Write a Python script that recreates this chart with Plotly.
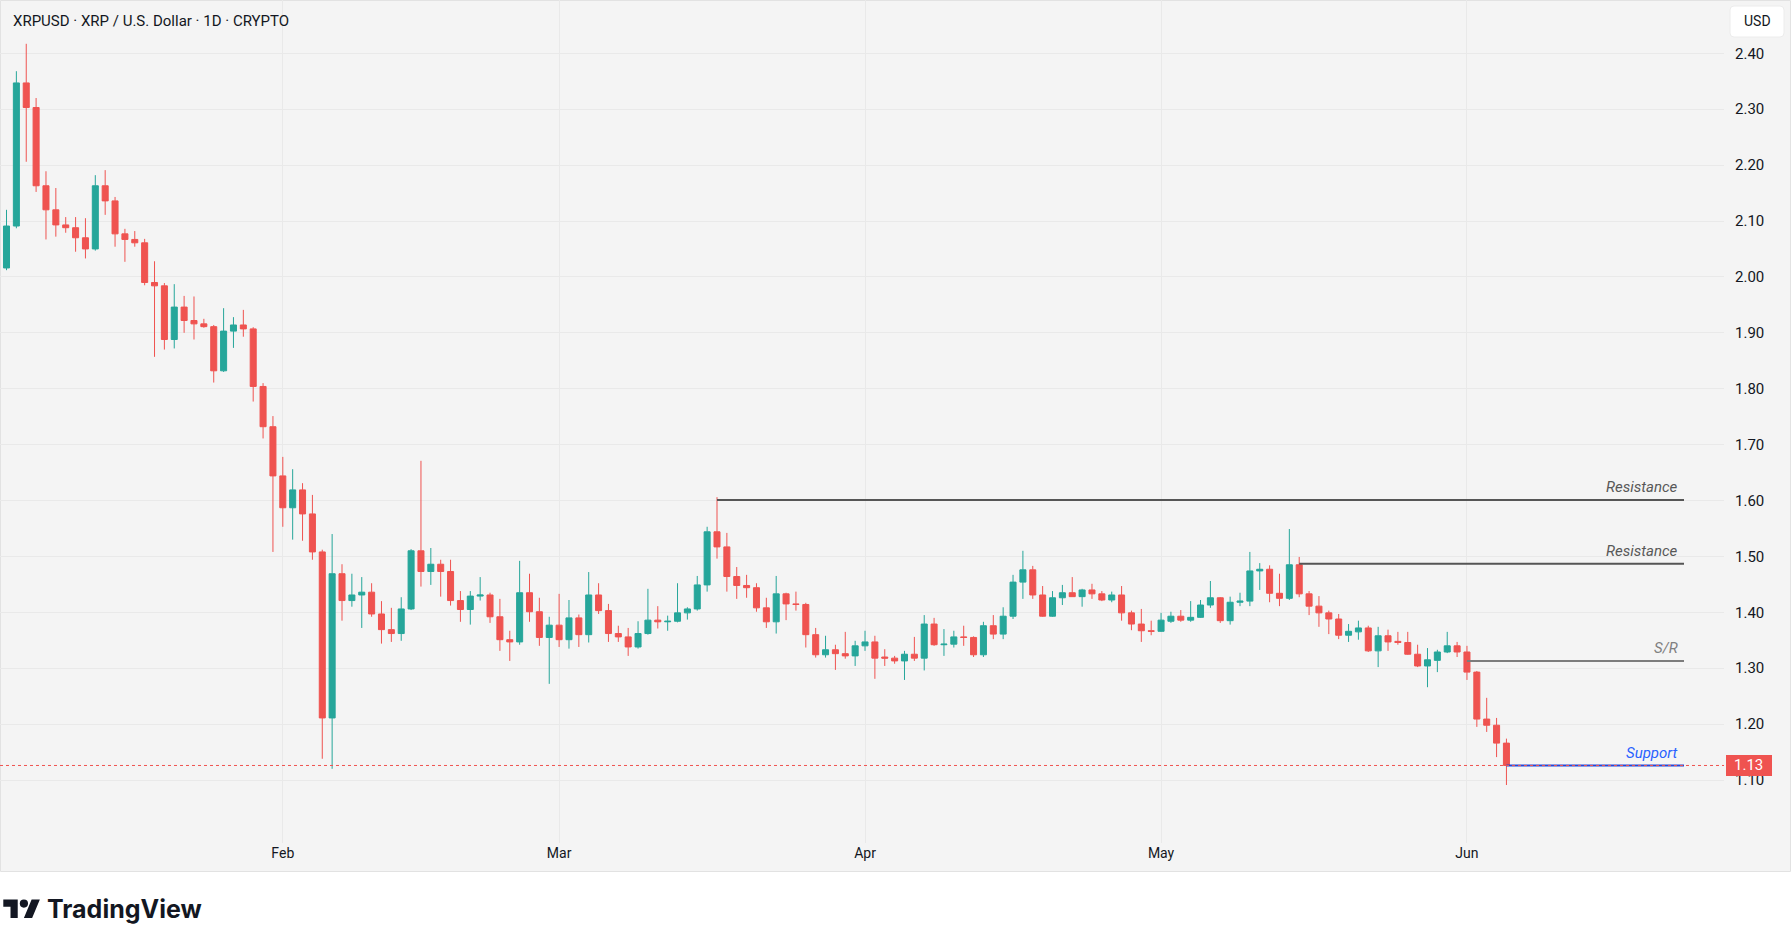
import plotly.graph_objects as go
import pandas as pd

# ---------------- data (XRPUSD daily, 2026-01-04 .. 2026-06-05) ----------------
start_date = "2026-01-04"
opens = [2.016, 2.091, 2.347, 2.303, 2.163, 2.120, 2.093, 2.088, 2.070, 2.050,
         2.163, 2.136, 2.077, 2.067, 2.061, 1.990, 1.984, 1.888, 1.946, 1.922,
         1.916, 1.911, 1.832, 1.903, 1.914, 1.907, 1.804, 1.732,
         1.644, 1.587, 1.619, 1.576, 1.508, 1.211, 1.469, 1.421, 1.431, 1.436,
         1.397, 1.369, 1.362, 1.406, 1.510, 1.473, 1.486, 1.473, 1.421, 1.405,
         1.429, 1.431, 1.392, 1.351, 1.347, 1.435, 1.401, 1.355,
         1.377, 1.351, 1.390, 1.360, 1.431, 1.403, 1.362, 1.356, 1.338, 1.362,
         1.386, 1.383, 1.384, 1.399, 1.406, 1.449, 1.544, 1.517, 1.464, 1.448,
         1.444, 1.408, 1.383, 1.433, 1.415, 1.414, 1.360, 1.324, 1.333, 1.326,
         1.322,
         1.340, 1.347, 1.320, 1.318, 1.313, 1.325, 1.318, 1.379, 1.342, 1.343,
         1.356, 1.355, 1.324, 1.376, 1.361, 1.393, 1.454, 1.476, 1.431, 1.393,
         1.426, 1.435, 1.428, 1.440, 1.433, 1.422, 1.431, 1.399, 1.379, 1.367,
         1.366, 1.384, 1.393, 1.386, 1.391, 1.413, 1.426, 1.385, 1.418, 1.420,
         1.474, 1.477, 1.434, 1.425, 1.485, 1.433, 1.411, 1.399, 1.388, 1.359,
         1.365, 1.372, 1.331, 1.358, 1.348, 1.346, 1.325, 1.304, 1.314, 1.329,
         1.340,
         1.329, 1.293, 1.209, 1.198, 1.166]
highs = [2.120, 2.368, 2.417, 2.320, 2.189, 2.159, 2.107, 2.107, 2.105, 2.182,
         2.191, 2.143, 2.086, 2.082, 2.068, 2.028, 1.989, 1.987, 1.966, 1.965,
         1.925, 1.914, 1.944, 1.928, 1.941, 1.910, 1.810, 1.751,
         1.678, 1.656, 1.631, 1.610, 1.512, 1.540, 1.486, 1.469, 1.463, 1.452,
         1.420, 1.408, 1.427, 1.513, 1.671, 1.515, 1.494, 1.494, 1.438, 1.438,
         1.463, 1.435, 1.424, 1.367, 1.492, 1.469, 1.426, 1.392,
         1.433, 1.422, 1.396, 1.472, 1.452, 1.415, 1.376, 1.372, 1.384, 1.442,
         1.411, 1.394, 1.452, 1.409, 1.465, 1.553, 1.606, 1.542, 1.481, 1.467,
         1.452, 1.426, 1.465, 1.435, 1.437, 1.417, 1.372, 1.358, 1.342, 1.365,
         1.349,
         1.367, 1.358, 1.334, 1.322, 1.331, 1.356, 1.395, 1.390, 1.370, 1.367,
         1.376, 1.357, 1.383, 1.395, 1.409, 1.467, 1.510, 1.483, 1.447, 1.438,
         1.449, 1.463, 1.442, 1.451, 1.438, 1.437, 1.447, 1.403, 1.406, 1.385,
         1.399, 1.401, 1.404, 1.420, 1.422, 1.456, 1.427, 1.428, 1.435, 1.508,
         1.488, 1.484, 1.469, 1.549, 1.499, 1.438, 1.429, 1.403, 1.397, 1.379,
         1.385, 1.376, 1.374, 1.369, 1.365, 1.365, 1.342, 1.336, 1.333, 1.365,
         1.347,
         1.340, 1.295, 1.247, 1.211, 1.174]
lows = [2.012, 2.087, 2.206, 2.152, 2.067, 2.072, 2.079, 2.045, 2.033, 2.047,
        2.111, 2.054, 2.027, 2.054, 1.985, 1.857, 1.870, 1.872, 1.900, 1.888,
        1.909, 1.811, 1.830, 1.873, 1.893, 1.777, 1.711, 1.508,
        1.553, 1.530, 1.528, 1.494, 1.138, 1.120, 1.385, 1.410, 1.372, 1.392,
        1.344, 1.347, 1.349, 1.404, 1.446, 1.449, 1.428, 1.412, 1.383, 1.378,
        1.421, 1.381, 1.331, 1.313, 1.342, 1.383, 1.340, 1.272,
        1.338, 1.335, 1.338, 1.346, 1.397, 1.347, 1.347, 1.322, 1.335, 1.360,
        1.371, 1.367, 1.382, 1.387, 1.403, 1.437, 1.496, 1.437, 1.424, 1.426,
        1.401, 1.372, 1.362, 1.386, 1.403, 1.337, 1.319, 1.319, 1.297, 1.317,
        1.304,
        1.331, 1.281, 1.304, 1.308, 1.279, 1.313, 1.296, 1.340, 1.322, 1.337,
        1.340, 1.320, 1.320, 1.352, 1.352, 1.388, 1.424, 1.424, 1.392, 1.392,
        1.413, 1.428, 1.410, 1.424, 1.420, 1.418, 1.385, 1.368, 1.347, 1.359,
        1.365, 1.381, 1.383, 1.383, 1.390, 1.408, 1.381, 1.378, 1.411, 1.411,
        1.440, 1.418, 1.411, 1.422, 1.427, 1.395, 1.374, 1.361, 1.352, 1.347,
        1.351, 1.329, 1.302, 1.331, 1.342, 1.324, 1.302, 1.266, 1.293, 1.327,
        1.320,
        1.279, 1.195, 1.186, 1.141, 1.091]
closes = [2.091, 2.347, 2.303, 2.163, 2.120, 2.093, 2.088, 2.070, 2.050, 2.163,
          2.136, 2.077, 2.067, 2.061, 1.990, 1.984, 1.888, 1.946, 1.922, 1.916,
          1.911, 1.832, 1.903, 1.914, 1.907, 1.804, 1.732, 1.644,
          1.587, 1.619, 1.576, 1.508, 1.211, 1.469, 1.421, 1.431, 1.436, 1.397,
          1.369, 1.362, 1.406, 1.510, 1.473, 1.486, 1.473, 1.421, 1.405, 1.429,
          1.431, 1.392, 1.351, 1.347, 1.435, 1.401, 1.355, 1.377,
          1.351, 1.390, 1.360, 1.431, 1.403, 1.362, 1.356, 1.338, 1.362, 1.386,
          1.383, 1.384, 1.399, 1.406, 1.449, 1.544, 1.517, 1.464, 1.448, 1.444,
          1.408, 1.383, 1.433, 1.415, 1.414, 1.360, 1.324, 1.333, 1.326, 1.322,
          1.340,
          1.347, 1.318, 1.318, 1.313, 1.325, 1.318, 1.379, 1.342, 1.343, 1.356,
          1.355, 1.324, 1.376, 1.361, 1.393, 1.454, 1.476, 1.431, 1.393, 1.426,
          1.435, 1.428, 1.440, 1.433, 1.422, 1.431, 1.399, 1.379, 1.367, 1.366,
          1.386, 1.393, 1.386, 1.391, 1.413, 1.426, 1.385, 1.418, 1.420, 1.474,
          1.477, 1.434, 1.425, 1.485, 1.433, 1.411, 1.399, 1.388, 1.359, 1.366,
          1.372, 1.331, 1.358, 1.347, 1.346, 1.325, 1.304, 1.315, 1.329, 1.340,
          1.329,
          1.293, 1.209, 1.198, 1.166, 1.126]

price_ticks = [1.10, 1.20, 1.30, 1.40, 1.50, 1.60, 1.70, 1.80, 1.90, 2.00,
               2.10, 2.20, 2.30, 2.40]
month_ticks = ["2026-02-01", "2026-03-01", "2026-04-01", "2026-05-01", "2026-06-01"]
month_labels = ["Feb", "Mar", "Apr", "May", "Jun"]

level_names = ["Resistance", "Resistance", "S/R", "Support"]
level_prices = [1.601, 1.487, 1.313, 1.126]
level_starts = ["2026-03-17", "2026-05-15", "2026-06-01", "2026-06-05"]
level_colors = ["#555555", "#555555", "#7c7c7c", "#2446d8"]
level_text_colors = ["#585858", "#585858", "#808080", "#2962ff"]
level_yshift = [2, 2, 2, 1]

title_text = "XRPUSD · XRP / U.S. Dollar · 1D · CRYPTO"

# ---------------- geometry helpers ----------------
W, H = 1791, 947
W_PLOT, H_PLOT = 1724, 843
PX_PER_DAY = 9.868
X_FIRST = 6.5            # pixel of first candle centre
Y_REF, P_REF, PX_PER_UNIT = 53.3, 2.40, 559.0
Y0 = P_REF - (H_PLOT - Y_REF) / PX_PER_UNIT
Y1 = P_REF + Y_REF / PX_PER_UNIT
base = pd.Timestamp(start_date)


def px_date(px):
    return (base + pd.Timedelta(days=(px - X_FIRST) / PX_PER_DAY)).strftime("%Y-%m-%d %H:%M:%S")


def px_x(px):
    return px / W_PLOT


def px_y(py):
    return (H_PLOT - py) / H_PLOT


def p_paper(p):
    return (p - Y0) / (Y1 - Y0)


dates = pd.date_range(start_date, periods=len(closes), freq="D")

GREEN = "#26a69a"
RED = "#ef5350"
BG = "#f4f4f4"
GRID = "#e9e9e9"
TXT = "#131722"

fig = go.Figure()
fig.add_trace(go.Candlestick(
    x=dates, open=opens, high=highs, low=lows, close=closes,
    increasing=dict(line=dict(color=GREEN, width=1), fillcolor=GREEN),
    decreasing=dict(line=dict(color=RED, width=1), fillcolor=RED),
    whiskerwidth=0, hoverinfo="skip", showlegend=False,
))

shapes = []
annotations = []

# container background + border
shapes.append(dict(type="rect", xref="paper", yref="paper", layer="below",
                   x0=px_x(0.5), x1=px_x(W - 0.5), y0=px_y(871.5), y1=px_y(0.5),
                   fillcolor=BG, line=dict(color="#e2e2e2", width=1)))

# level lines + labels
line_end = px_date(1684)
for name, price, st, col, tcol, ys in zip(level_names, level_prices, level_starts,
                                          level_colors, level_text_colors, level_yshift):
    shapes.append(dict(type="line", xref="x", yref="y", x0=st, x1=line_end,
                       y0=price, y1=price, line=dict(color=col, width=2)))
    annotations.append(dict(xref="paper", yref="y", x=px_x(1680), y=price,
                            xanchor="right", yanchor="bottom", yshift=ys,
                            text=name, showarrow=False,
                            font=dict(family="Roboto", size=15, color=tcol, style="italic")))

# current price dotted line
last = closes[-1]
shapes.append(dict(type="line", xref="paper", yref="y", x0=0, x1=1, y0=last, y1=last,
                   line=dict(color=RED, width=1, dash="dot")))
# price label box
shapes.append(dict(type="rect", xref="paper", yref="paper",
                   x0=px_x(1726), x1=px_x(1772),
                   y0=p_paper(last) - 10.5 / H_PLOT, y1=p_paper(last) + 10.5 / H_PLOT,
                   fillcolor=RED, line=dict(width=0)))
annotations.append(dict(xref="paper", yref="paper", x=px_x(1749), y=p_paper(last),
                        xanchor="center", yanchor="middle", text=f"{last:.2f}",
                        showarrow=False, font=dict(family="Roboto", size=15, color="white")))

# USD box (rounded)
bx0, bx1, by0, by1, r = 1730, 1784, 6, 37, 4
path = (f"M {px_x(bx0 + r)},{px_y(by0)} L {px_x(bx1 - r)},{px_y(by0)} "
        f"Q {px_x(bx1)},{px_y(by0)} {px_x(bx1)},{px_y(by0 + r)} "
        f"L {px_x(bx1)},{px_y(by1 - r)} Q {px_x(bx1)},{px_y(by1)} {px_x(bx1 - r)},{px_y(by1)} "
        f"L {px_x(bx0 + r)},{px_y(by1)} Q {px_x(bx0)},{px_y(by1)} {px_x(bx0)},{px_y(by1 - r)} "
        f"L {px_x(bx0)},{px_y(by0 + r)} Q {px_x(bx0)},{px_y(by0)} {px_x(bx0 + r)},{px_y(by0)} Z")
shapes.append(dict(type="path", xref="paper", yref="paper", path=path,
                   fillcolor="white", line=dict(color="#ececec", width=1)))
annotations.append(dict(xref="paper", yref="paper", x=px_x(1757), y=px_y(21.5),
                        xanchor="center", yanchor="middle", text="USD", showarrow=False,
                        font=dict(family="Roboto", size=14, color=TXT)))

# title
annotations.append(dict(xref="paper", yref="paper", x=px_x(11), y=px_y(21),
                        xanchor="left", yanchor="middle", text=title_text, showarrow=False,
                        font=dict(family="Roboto", size=15, color=TXT)))

# TradingView logo
ox, oy, s = 3.3, 899.5, 1.03


def lp(u, v):
    return f"{px_x(ox + u * s)},{px_y(oy + (v - 4) * s)}"


logo_path = (f"M {lp(0,4)} L {lp(14,4)} L {lp(14,22)} L {lp(7,22)} L {lp(7,11)} L {lp(0,11)} Z "
             f"M {lp(20,22)} L {lp(28,22)} L {lp(35.5,4)} L {lp(27.5,4)} Z")
shapes.append(dict(type="path", xref="paper", yref="paper", path=logo_path,
                   fillcolor=TXT, line=dict(width=0)))
shapes.append(dict(type="circle", xref="paper", yref="paper",
                   x0=px_x(ox + 16 * s), x1=px_x(ox + 24 * s),
                   y0=px_y(oy + 8 * s), y1=px_y(oy),
                   fillcolor=TXT, line=dict(width=0)))
annotations.append(dict(xref="paper", yref="paper", x=px_x(44.5), y=px_y(909.5),
                        xanchor="left", yanchor="middle", text="TradingView", showarrow=False,
                        font=dict(family="Inter", size=25, color=TXT, weight=700)))

fig.update_layout(
    width=W, height=H, autosize=False,
    margin=dict(l=0, r=W - W_PLOT, t=0, b=H - H_PLOT, pad=0),
    paper_bgcolor="white", plot_bgcolor=BG,
    showlegend=False, boxgap=0.39, boxgroupgap=0,
    shapes=shapes, annotations=annotations,
    xaxis=dict(type="date", range=[px_date(0), px_date(W_PLOT)],
               tickvals=month_ticks, ticktext=month_labels,
               showgrid=True, gridcolor=GRID, gridwidth=1,
               ticks="", showline=False, zeroline=False,
               rangeslider=dict(visible=False),
               tickfont=dict(family="Roboto", size=14, color=TXT)),
    yaxis=dict(side="right", range=[Y0, Y1],
               tickvals=price_ticks, ticktext=[f"{v:.2f}" for v in price_ticks],
               showgrid=True, gridcolor=GRID, gridwidth=1,
               ticks="", showline=False, zeroline=False,
               ticklabelstandoff=10,
               tickfont=dict(family="Roboto", size=15, color=TXT)),
)

fig.write_html("out.html", post_script="document.body.style.margin='0';")
